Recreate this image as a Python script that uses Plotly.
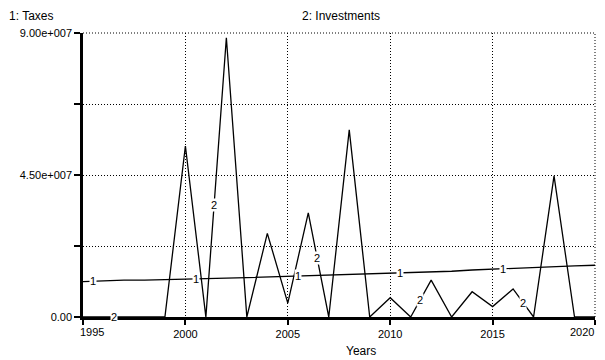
import numpy as np
import plotly.graph_objects as go

years = list(range(1995, 2021))
taxes = [1.12e7, 1.15e7, 1.17e7, 1.17e7, 1.18e7, 1.19e7, 1.22e7, 1.23e7, 1.25e7, 1.27e7,
         1.29e7, 1.31e7, 1.33e7, 1.35e7, 1.36e7, 1.37e7, 1.39e7, 1.41e7, 1.45e7, 1.49e7,
         1.52e7, 1.55e7, 1.57e7, 1.60e7, 1.62e7, 1.64e7]
investments = [0, 0, 0, 0, 0, 5.42e7, 0, 8.85e7, 0, 2.65e7,
               0.44e7, 3.3e7, 0, 5.93e7, 0, 0.61e7, 0, 1.17e7, 0, 0.80e7,
               0.33e7, 0.89e7, 0, 4.47e7, 0, 0]
y_tickvals = [0, 2.25e7, 4.5e7, 6.75e7, 9e7]
y_ticktext = ["0.00", "", "4.50e+007", "", "9.00e+007"]
x_tickvals = [1995, 2000, 2005, 2010, 2015, 2020]
x_ticktext = ["", "2000", "2005", "2010", "2015", ""]
label1_x = [1995.5, 2000.5, 2005.5, 2010.5, 2015.5]
label2_x = [1996.5, 2001.4, 2006.43, 2011.45, 2016.5]

FONT = "Liberation Sans, Arial, sans-serif"
DOT = "1px,2px"

fig = go.Figure()
fig.add_trace(go.Scatter(x=years, y=taxes, mode="lines",
                         line=dict(color="black", width=1.3), name="Taxes"))
fig.add_trace(go.Scatter(x=years, y=investments, mode="lines",
                         line=dict(color="black", width=1.3), name="Investments"))

for xv in label1_x:
    fig.add_annotation(x=xv, y=float(np.interp(xv, years, taxes)), text="1",
                       showarrow=False, bgcolor="white", borderpad=0,
                       font=dict(family=FONT, size=11, color="black"))
for xv in label2_x:
    fig.add_annotation(x=xv, y=float(np.interp(xv, years, investments)), text="2",
                       showarrow=False, bgcolor="white", borderpad=0,
                       font=dict(family=FONT, size=11, color="black"))

# first and last x tick labels, nudged inward as the edges require
fig.add_annotation(x=x_tickvals[0], y=0, yref="y", xanchor="left", yanchor="top",
                   xshift=-5, yshift=-7, text=str(x_tickvals[0]), showarrow=False,
                   font=dict(family=FONT, size=11, color="black"))
fig.add_annotation(x=x_tickvals[-1], y=0, yref="y", xanchor="right", yanchor="top",
                   xshift=1, yshift=-7, text=str(x_tickvals[-1]), showarrow=False,
                   font=dict(family=FONT, size=11, color="black"))

fig.add_annotation(xref="paper", yref="paper", x=-0.146, y=1.088, xanchor="left", yanchor="top",
                   text="1: Taxes", showarrow=False, borderpad=0,
                   font=dict(family=FONT, size=12, color="black"))
fig.add_annotation(xref="paper", yref="paper", x=0.425, y=1.088, xanchor="left", yanchor="top",
                   text="2: Investments", showarrow=False, borderpad=0,
                   font=dict(family=FONT, size=12, color="black"))
fig.add_annotation(xref="paper", yref="paper", x=0.51, y=-0.12, xanchor="left", yanchor="middle",
                   text="Years", showarrow=False, font=dict(family=FONT, size=12, color="black"))

# top and right dotted border lines
fig.add_shape(type="line", xref="paper", yref="paper", x0=0, x1=1, y0=1, y1=1,
              line=dict(color="black", width=1, dash=DOT))
fig.add_shape(type="line", xref="paper", yref="paper", x0=1, x1=1, y0=0, y1=1,
              line=dict(color="black", width=1, dash=DOT))

fig.update_layout(
    width=597, height=352,
    margin=dict(l=75, r=10, t=25, b=43, autoexpand=False),
    paper_bgcolor="white", plot_bgcolor="white",
    showlegend=False,
    font=dict(family=FONT, size=11, color="black"),
)
fig.update_xaxes(range=[1995, 2020], tickvals=x_tickvals, ticktext=x_ticktext, ticks="outside",
                 ticklen=5, tickwidth=2, tickcolor="black", showline=True, linecolor="black",
                 linewidth=2.5, showgrid=True, gridcolor="black", griddash=DOT, gridwidth=1,
                 zeroline=False, automargin=False,
                 tickfont=dict(family=FONT, size=11, color="black"))
fig.update_yaxes(range=[0, 9e7], tickvals=y_tickvals, ticktext=y_ticktext, ticks="outside",
                 ticklen=6, tickwidth=2, tickcolor="black", showline=True, linecolor="black",
                 linewidth=2.5, showgrid=True, gridcolor="black", griddash=DOT, gridwidth=1,
                 zeroline=False, automargin=False,
                 tickfont=dict(family=FONT, size=11, color="black"))

fig.write_html("out.html")
